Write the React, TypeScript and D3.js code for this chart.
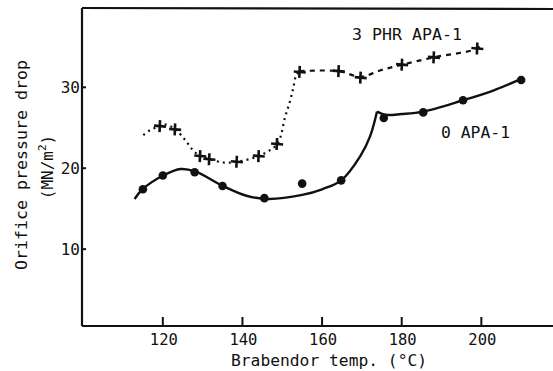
import React from "react";
import * as d3 from "d3";

// ---- data ----
const xTicks = [120, 140, 160, 180, 200];
const yTicks = [10, 20, 30];

// 0 APA-1 measured points (solid circles)
const apa0X = [115, 120, 128, 135, 145.5, 155, 164.8, 175.5, 185.4, 195.4, 210];
const apa0Y = [17.4, 19.1, 19.5, 17.8, 16.3, 18.1, 18.5, 26.2, 26.9, 28.4, 30.9];

// 3 PHR APA-1 measured points (plus markers)
const apa3X = [119.3, 123.1, 129.4, 131.7, 138.6, 144.1, 148.7, 154.4, 164.2, 169.7, 180.1, 188.1, 199.0];
const apa3Y = [25.2, 24.8, 21.5, 21.1, 20.8, 21.5, 23.0, 31.9, 32.0, 31.2, 32.8, 33.7, 34.8];

// hand-drawn fit curve for 0 APA-1 (two branches meeting at a cusp)
const fit0aX = [112.9, 114.9, 120.1, 124.5, 128.1, 135.1, 141, 146.5, 155, 160, 164.8, 169.6, 172.1, 173.8];
const fit0aY = [16.2, 17.4, 19.1, 19.9, 19.6, 17.8, 16.6, 16.2, 16.7, 17.4, 18.5, 21.5, 24.0, 27.0];
const fit0bX = [173.8, 176, 180, 185.4, 195.4, 203, 210.3];
const fit0bY = [27.0, 26.6, 26.7, 27.0, 28.4, 29.6, 31.1];

// hand-drawn fit curve for 3 PHR APA-1 (dotted + dashed parts)
const fit3aX = [115.1, 116.8, 119.3, 120.8, 123.1, 125.6, 127.6, 129.4, 131.7, 135.5, 138.6, 144, 148.7, 150.7, 152, 152.8, 153.5, 154.4];
const fit3aY = [24.1, 24.7, 25.2, 25.4, 24.8, 23.5, 22.2, 21.5, 21.1, 20.7, 20.8, 21.5, 23.0, 26.3, 28.4, 30.0, 31.5, 32.0];
const fit3bX = [154.4, 164.2, 169.7, 174.7, 180.1, 188, 199, 199.8];
const fit3bY = [32.0, 32.0, 31.3, 32.1, 32.8, 33.7, 34.8, 35.3];

const W = 553;
const H = 371;
const FONT = "'DejaVu Sans Mono', 'Liberation Mono', monospace";

export default function App() {
  const x = d3.scaleLinear().domain([99.7, 218]).range([82, 553]);
  const y = d3.scaleLinear().domain([0.5, 39.8]).range([326, 8]);

  const zip = (xs: number[], ys: number[]) => xs.map((v, i) => [v, ys[i]] as [number, number]);
  const line = d3
    .line<[number, number]>()
    .x((d) => x(d[0]))
    .y((d) => y(d[1]))
    .curve(d3.curveCatmullRom.alpha(0.5));

  const x0 = x.range()[0];
  const x1 = x.range()[1];
  const yb = y.range()[0];
  const yt = y.range()[1];

  return (
    <svg
      width={W}
      height={H}
      style={{ position: "absolute", left: 0, top: 0, background: "#fff" }}
      fontFamily={FONT}
    >
      <rect width={W} height={H} fill="#fff" />
      {/* frame */}
      <line x1={x0} y1={yt} x2={x1} y2={yt + 1} stroke="#111" strokeWidth={2.2} />
      <line x1={x0} y1={yt} x2={x0} y2={yb} stroke="#111" strokeWidth={2.2} />
      <line x1={x0} y1={yb} x2={x1} y2={yb} stroke="#111" strokeWidth={2.2} />

      {/* x ticks */}
      {xTicks.map((t) => (
        <g key={"xt" + t}>
          <line x1={x(t)} x2={x(t)} y1={yb} y2={yb - 9} stroke="#111" strokeWidth={2} />
          <text x={x(t) + 1} y={345} textAnchor="middle" fontSize={15.5} fill="#111">
            {t}
          </text>
        </g>
      ))}

      {/* y ticks */}
      {yTicks.map((t) => (
        <g key={"yt" + t}>
          <line x1={x0} x2={x0 + 4} y1={y(t)} y2={y(t)} stroke="#111" strokeWidth={2} />
          <text x={80} y={y(t)} dy="0.36em" textAnchor="end" fontSize={16} fill="#111">
            {t}
          </text>
        </g>
      ))}

      {/* axis titles */}
      <text x={231} y={366} fontSize={16.3} fill="#111">
        Brabendor temp. (°C)
      </text>
      <text
        transform="translate(27,165) rotate(-90)"
        textAnchor="middle"
        fontSize={16.6}
        fill="#111"
      >
        Orifice pressure drop
      </text>
      <text
        transform="translate(53,167) rotate(-90)"
        textAnchor="middle"
        fontSize={16}
        fill="#111"
      >
        (MN/m<tspan fontSize={11} dy={-7}>2</tspan>
        <tspan dy={7}>)</tspan>
      </text>

      {/* fit curves */}
      <path d={line(zip(fit0aX, fit0aY)) || ""} fill="none" stroke="#111" strokeWidth={2.4} />
      <path d={line(zip(fit0bX, fit0bY)) || ""} fill="none" stroke="#111" strokeWidth={2.4} />
      <path
        d={line(zip(fit3aX, fit3aY)) || ""}
        fill="none"
        stroke="#111"
        strokeWidth={2.2}
        strokeDasharray="2,4"
      />
      <path
        d={line(zip(fit3bX, fit3bY)) || ""}
        fill="none"
        stroke="#111"
        strokeWidth={2.2}
        strokeDasharray="5,5"
      />

      {/* markers */}
      {apa0X.map((v, i) => (
        <circle key={"c" + i} cx={x(v)} cy={y(apa0Y[i])} r={4.3} fill="#111" />
      ))}
      {apa3X.map((v, i) => {
        const cx = x(v);
        const cy = y(apa3Y[i]);
        return (
          <g key={"p" + i} stroke="#111" strokeWidth={2.6}>
            <line x1={cx - 6} x2={cx + 6} y1={cy - 0.5} y2={cy + 0.5} />
            <line x1={cx} x2={cx - 0.5} y1={cy - 6} y2={cy + 6} />
          </g>
        );
      })}

      {/* series labels */}
      <text x={352} y={40} fontSize={16.6} fill="#111">
        3 PHR APA-1
      </text>
      <text x={441} y={138} fontSize={16.4} fill="#111">
        0 APA-1
      </text>
    </svg>
  );
}
